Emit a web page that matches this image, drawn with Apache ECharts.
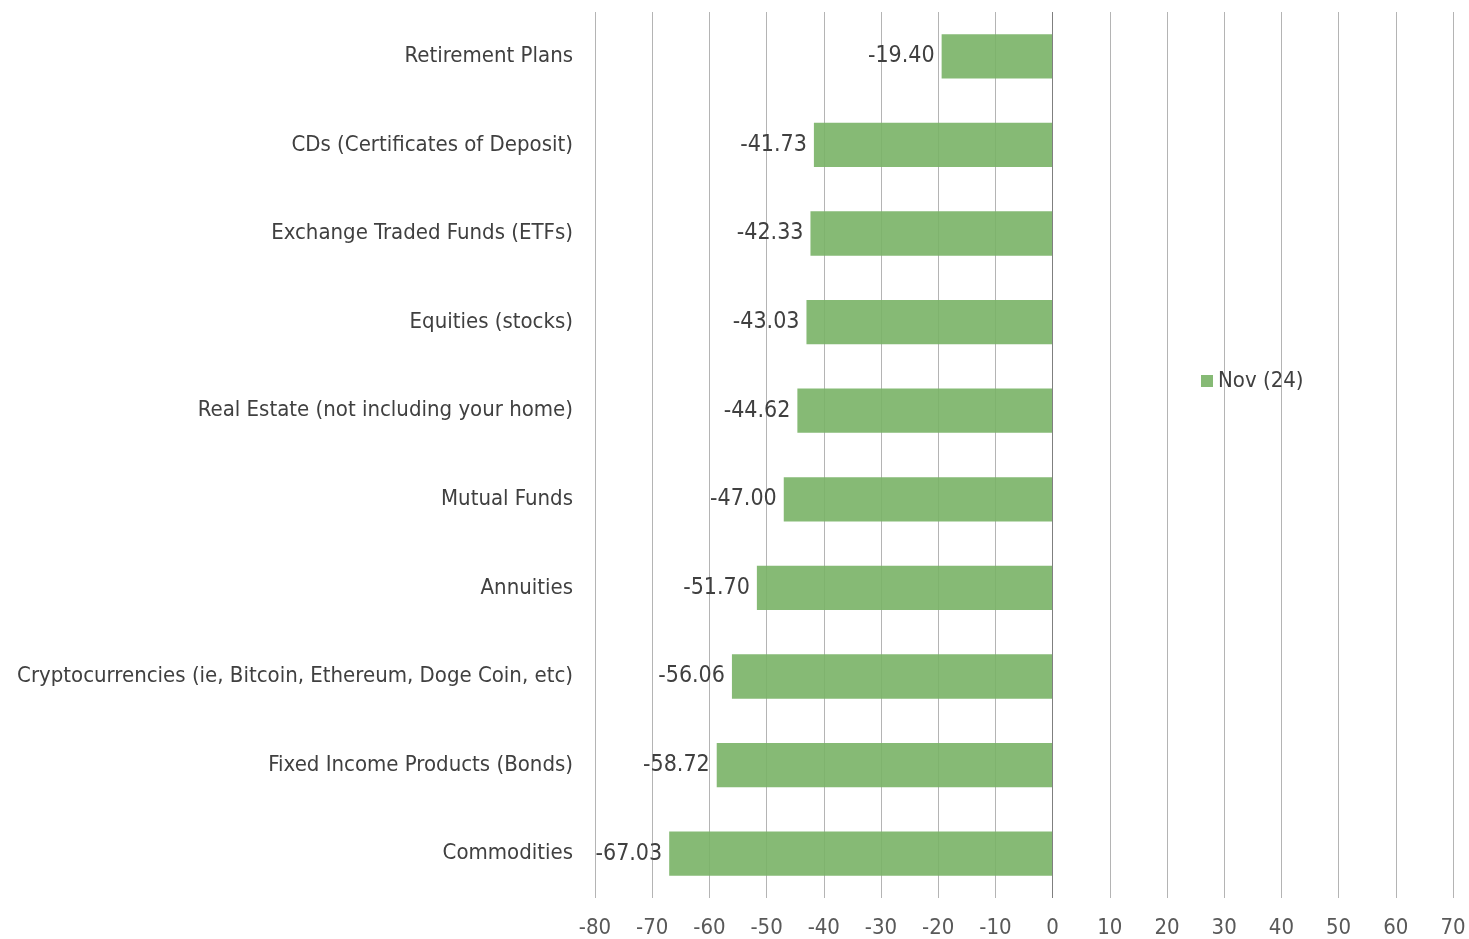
<!DOCTYPE html>
<html>
<head>
<meta charset="utf-8">
<script src="https://cdn.jsdelivr.net/npm/echarts@6/dist/echarts.min.js"></script>
<style>html,body{margin:0;padding:0;background:#fff;}#c{width:1469px;height:939px;}</style>
</head>
<body>
<div id="c"></div>
<script>
const categories = [
  "Retirement Plans",
  "CDs (Certificates of Deposit)",
  "Exchange Traded Funds (ETFs)",
  "Equities (stocks)",
  "Real Estate (not including your home)",
  "Mutual Funds",
  "Annuities",
  "Cryptocurrencies (ie, Bitcoin, Ethereum, Doge Coin, etc)",
  "Fixed Income Products (Bonds)",
  "Commodities"
];
const values = [-19.40, -41.73, -42.33, -43.03, -44.62, -47.00, -51.70, -56.06, -58.72, -67.03];
const seriesName = "Nov (24)";
const FONT = 'Tahoma, "DejaVu Sans Condensed", "DejaVu Sans", sans-serif';

const chart = echarts.init(document.getElementById('c'));
chart.setOption({
  animation: false,
  backgroundColor: '#fff',
  textStyle: { fontFamily: FONT },
  grid: { left: 595, right: 16, top: 12, bottom: 41, containLabel: false },
  legend: {
    data: [seriesName],
    left: 1196, top: 365,
    icon: 'rect', itemWidth: 12, itemHeight: 12, itemGap: 4,
    textStyle: { fontFamily: FONT, fontSize: 22, color: '#404040' }
  },
  xAxis: {
    type: 'value', min: -80, max: 70, interval: 10,
    axisLine: { show: false },
    axisTick: { show: false },
    splitLine: { show: true, lineStyle: { color: '#b4b4b4', width: 1 } },
    axisLabel: { fontFamily: FONT, fontSize: 22, color: '#595959', margin: 19 }
  },
  yAxis: {
    type: 'category', data: categories, inverse: true,
    axisLine: { show: false, onZero: false },
    axisTick: { show: false },
    axisLabel: { fontFamily: FONT, fontSize: 22, color: '#404040', margin: 22, padding: [4, 0, 0, 0] }
  },
  series: [{
    name: seriesName,
    type: 'bar',
    data: values,
    barWidth: '50%',
    itemStyle: { color: 'rgba(121,179,102,0.9)' },
    label: {
      show: true, position: 'left', distance: 7,
      fontFamily: FONT, fontSize: 23, color: '#404040',
      padding: [6, 0, 0, 0],
      formatter: p => p.value.toFixed(2)
    },
    markLine: {
      silent: true, symbol: 'none',
      label: { show: false },
      lineStyle: { color: '#7f7f7f', type: 'solid', width: 1 },
      data: [{ xAxis: 0 }]
    }
  }]
});
</script>
</body>
</html>
